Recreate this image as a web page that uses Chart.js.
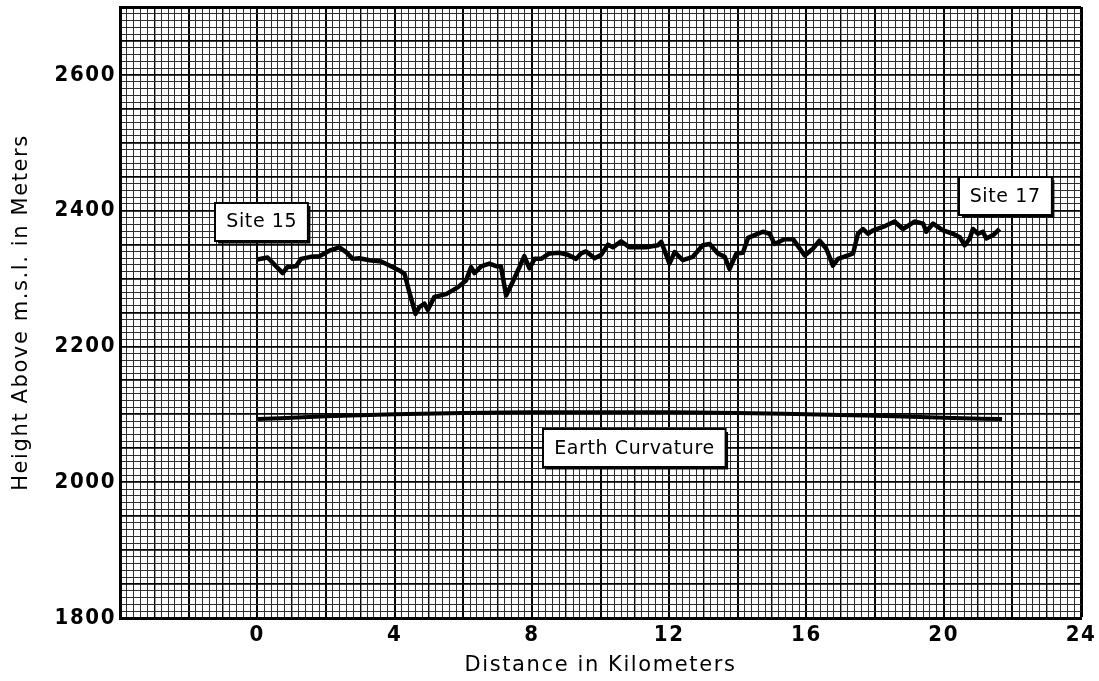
<!DOCTYPE html>
<html>
<head>
<meta charset="utf-8">
<script src="https://cdn.jsdelivr.net/npm/chart.js@4/dist/chart.umd.min.js"></script>
<style>
  body { margin: 0; background: #fff; }
  #wrap { width: 1099px; height: 681px; }
</style>
</head>
<body>
<div id="wrap"><canvas id="profil"></canvas></div>
<script>
// terrain profile, site 15 -> site 17
const terrainKm = [0, 0.3, 0.74, 0.88, 1.13, 1.27, 1.56, 1.81, 2.1, 2.39, 2.59, 2.78, 2.97, 3.27, 3.61, 3.94,
  4.14, 4.29, 4.43, 4.61, 4.72, 4.87, 4.97, 5.16, 5.5, 5.84, 6.08, 6.23, 6.33, 6.52, 6.76, 6.98, 7.1, 7.25,
  7.44, 7.64, 7.78, 7.93, 8.08, 8.27, 8.51, 8.8, 9.05, 9.29, 9.43, 9.58, 9.83, 10.02, 10.22, 10.36, 10.6,
  10.85, 11.33, 11.67, 11.77, 11.92, 12.01, 12.16, 12.4, 12.69, 12.98, 13.18, 13.42, 13.62, 13.76, 13.96,
  14.15, 14.3, 14.49, 14.73, 14.93, 15.07, 15.36, 15.61, 15.95, 16.19, 16.38, 16.58, 16.77, 16.92, 17.21,
  17.36, 17.5, 17.65, 17.79, 17.94, 18.23, 18.57, 18.81, 19.15, 19.4, 19.49, 19.69, 19.98, 20.27, 20.47,
  20.61, 20.76, 20.85, 21.0, 21.14, 21.24, 21.44, 21.63]
const terrainHeight = [2328, 2331, 2308, 2317, 2318, 2329, 2332, 2333, 2341, 2346, 2339, 2329, 2330, 2327, 2325, 2317,
  2312, 2307, 2280, 2248, 2258, 2263, 2254, 2273, 2277, 2287, 2297, 2317, 2308, 2318, 2322, 2318, 2318, 2275,
  2295, 2317, 2333, 2315, 2329, 2329, 2337, 2338, 2335, 2329, 2337, 2340, 2330, 2335, 2350, 2346, 2355,
  2346, 2346, 2349, 2354, 2334, 2322, 2339, 2327, 2332, 2349, 2351, 2337, 2332, 2314, 2337,
  2338, 2360, 2364, 2369, 2366, 2351, 2358, 2358, 2334, 2344, 2356, 2344, 2319, 2329, 2334,
  2337, 2366, 2373, 2366, 2371, 2376, 2384, 2373, 2384, 2381, 2369, 2381, 2371, 2366, 2361,
  2349, 2359, 2373, 2366, 2369, 2359, 2364, 2373]

// earth curvature line
const curveKm = [0, 2, 4, 6, 8, 10, 12, 14, 16, 18, 20, 21.7]
const curveHeight = [2093, 2097, 2100, 2102, 2103, 2103, 2103, 2102, 2100, 2098, 2095, 2093]

// axis
const xMin = -4, xMax = 24
const yMin = 1800, yMax = 2700
const xLabelEvery = 4
const yLabelEvery = 200

// boxed labels (data coords)
const noteText = ['Site 15', 'Site 17', 'Earth Curvature']
const noteKm = [0.13, 21.79, 10.99]
const noteHeight = [2384, 2422, 2050]

function toPts(xs, ys) {
  return xs.map(function (x, i) { return {x: x, y: ys[i]} })
}
function near(v, m) {
  return Math.abs(v / m - Math.round(v / m)) < 1e-6
}

// weight string carries the stretch too, chart.js just glues it in the font shorthand
const tickFont = {family: "'DejaVu Sans Condensed', 'Liberation Sans Narrow', 'DejaVu Sans', sans-serif", size: 22, weight: 'bold condensed'}
const titleFont = {family: "'DejaVu Sans', sans-serif", size: 21}

const spacing = {
  id: 'spacing',
  beforeUpdate: function (chart) { chart.ctx.letterSpacing = '1.6px' },
  beforeDraw: function (chart) { chart.ctx.letterSpacing = '1.6px' }
}

// white boxes with text
const notes = {
  id: 'notes',
  afterDatasetsDraw: function (chart) {
    const ctx = chart.ctx
    const sx = chart.scales.x, sy = chart.scales.y
    ctx.save()
    ctx.letterSpacing = '0.6px'
    ctx.font = "19px 'DejaVu Sans', sans-serif"
    ctx.textAlign = 'center'
    ctx.textBaseline = 'middle'
    for (let i = 0; i < noteText.length; i++) {
      const cx = sx.getPixelForValue(noteKm[i])
      const cy = sy.getPixelForValue(noteHeight[i])
      const w = ctx.measureText(noteText[i]).width + 22
      const h = 38
      const l = Math.round(cx - w / 2), t = Math.round(cy - h / 2)
      ctx.fillStyle = '#fff'
      ctx.fillRect(l, t, w, h)
      ctx.strokeStyle = '#000'
      ctx.lineWidth = 2
      ctx.strokeRect(l, t, w, h)
      ctx.beginPath()
      ctx.moveTo(l + 3, t + h + 1.5)
      ctx.lineTo(l + w + 1.5, t + h + 1.5)
      ctx.lineTo(l + w + 1.5, t + 3)
      ctx.stroke()
      ctx.fillStyle = '#000'
      ctx.fillText(noteText[i], cx, cy + 1)
    }
    ctx.restore()
  }
}

const config = {
  type: 'line',
  data: {
    datasets: [{
      label: 'Profile',
      data: toPts(terrainKm, terrainHeight),
      borderColor: '#000',
      borderWidth: 4.5,
      borderJoinStyle: 'round',
      pointRadius: 0,
      tension: 0
    }, {
      label: 'Earth Curvature',
      data: toPts(curveKm, curveHeight),
      borderColor: '#000',
      borderWidth: 4,
      pointRadius: 0,
      cubicInterpolationMode: 'monotone'
    }]
  },
  options: {
    responsive: true,
    maintainAspectRatio: false,
    animation: false,
    layout: {padding: {top: 7, right: 18, left: 0, bottom: 0}},
    plugins: {legend: {display: false}, tooltip: {enabled: false}},
    scales: {
      x: {
        type: 'linear',
        min: xMin,
        max: xMax,
        afterFit: function (s) { s.height = 63; s.paddingLeft = 0; s.paddingRight = 0 },
        ticks: {
          stepSize: 0.2,
          autoSkip: false,
          maxRotation: 0,
          padding: 4,
          color: '#000',
          font: tickFont,
          callback: function (v) { return (v >= 0 && near(v, xLabelEvery)) ? String(Math.round(v)) : '' }
        },
        grid: {
          drawTicks: false,
          color: function (c) {
            return near(c.tick.value, 1) ? '#000' : '#2e2e2e'
          },
          lineWidth: function (c) {
            const v = c.tick.value
            if (near(v - xMax, 1000)) return 3
            if (near(v, 2)) return 2
            if (near(v, 1)) return 1.4
            return 1
          }
        },
        border: {width: 3, color: '#000'},
        title: {display: true, text: 'Distance in Kilometers', color: '#000', font: titleFont, padding: {top: 0, bottom: 3}}
      },
      y: {
        type: 'linear',
        min: yMin,
        max: yMax,
        afterFit: function (s) { s.width = 120; s.paddingTop = 0; s.paddingBottom = 0 },
        ticks: {
          stepSize: 10,
          autoSkip: false,
          padding: 4,
          color: '#000',
          font: tickFont,
          callback: function (v) { return near(v, yLabelEvery) ? String(v) : '' }
        },
        grid: {
          drawTicks: false,
          color: function (c) {
            return near(c.tick.value, 50) ? '#000' : '#2e2e2e'
          },
          lineWidth: function (c) {
            const v = c.tick.value
            if (v === yMax) return 3
            if (near(v, 50)) return 1.8
            return 1
          }
        },
        border: {width: 3, color: '#000'},
        title: {display: true, text: 'Height Above m.s.l. in Meters', color: '#000', font: titleFont, padding: {top: 9, bottom: 0}}
      }
    }
  },
  plugins: [spacing, notes]
}

window.onload = function () {
  const ctx = document.getElementById('profil').getContext('2d')
  window.profil = new Chart(ctx, config)
}
</script>
</body>
</html>
